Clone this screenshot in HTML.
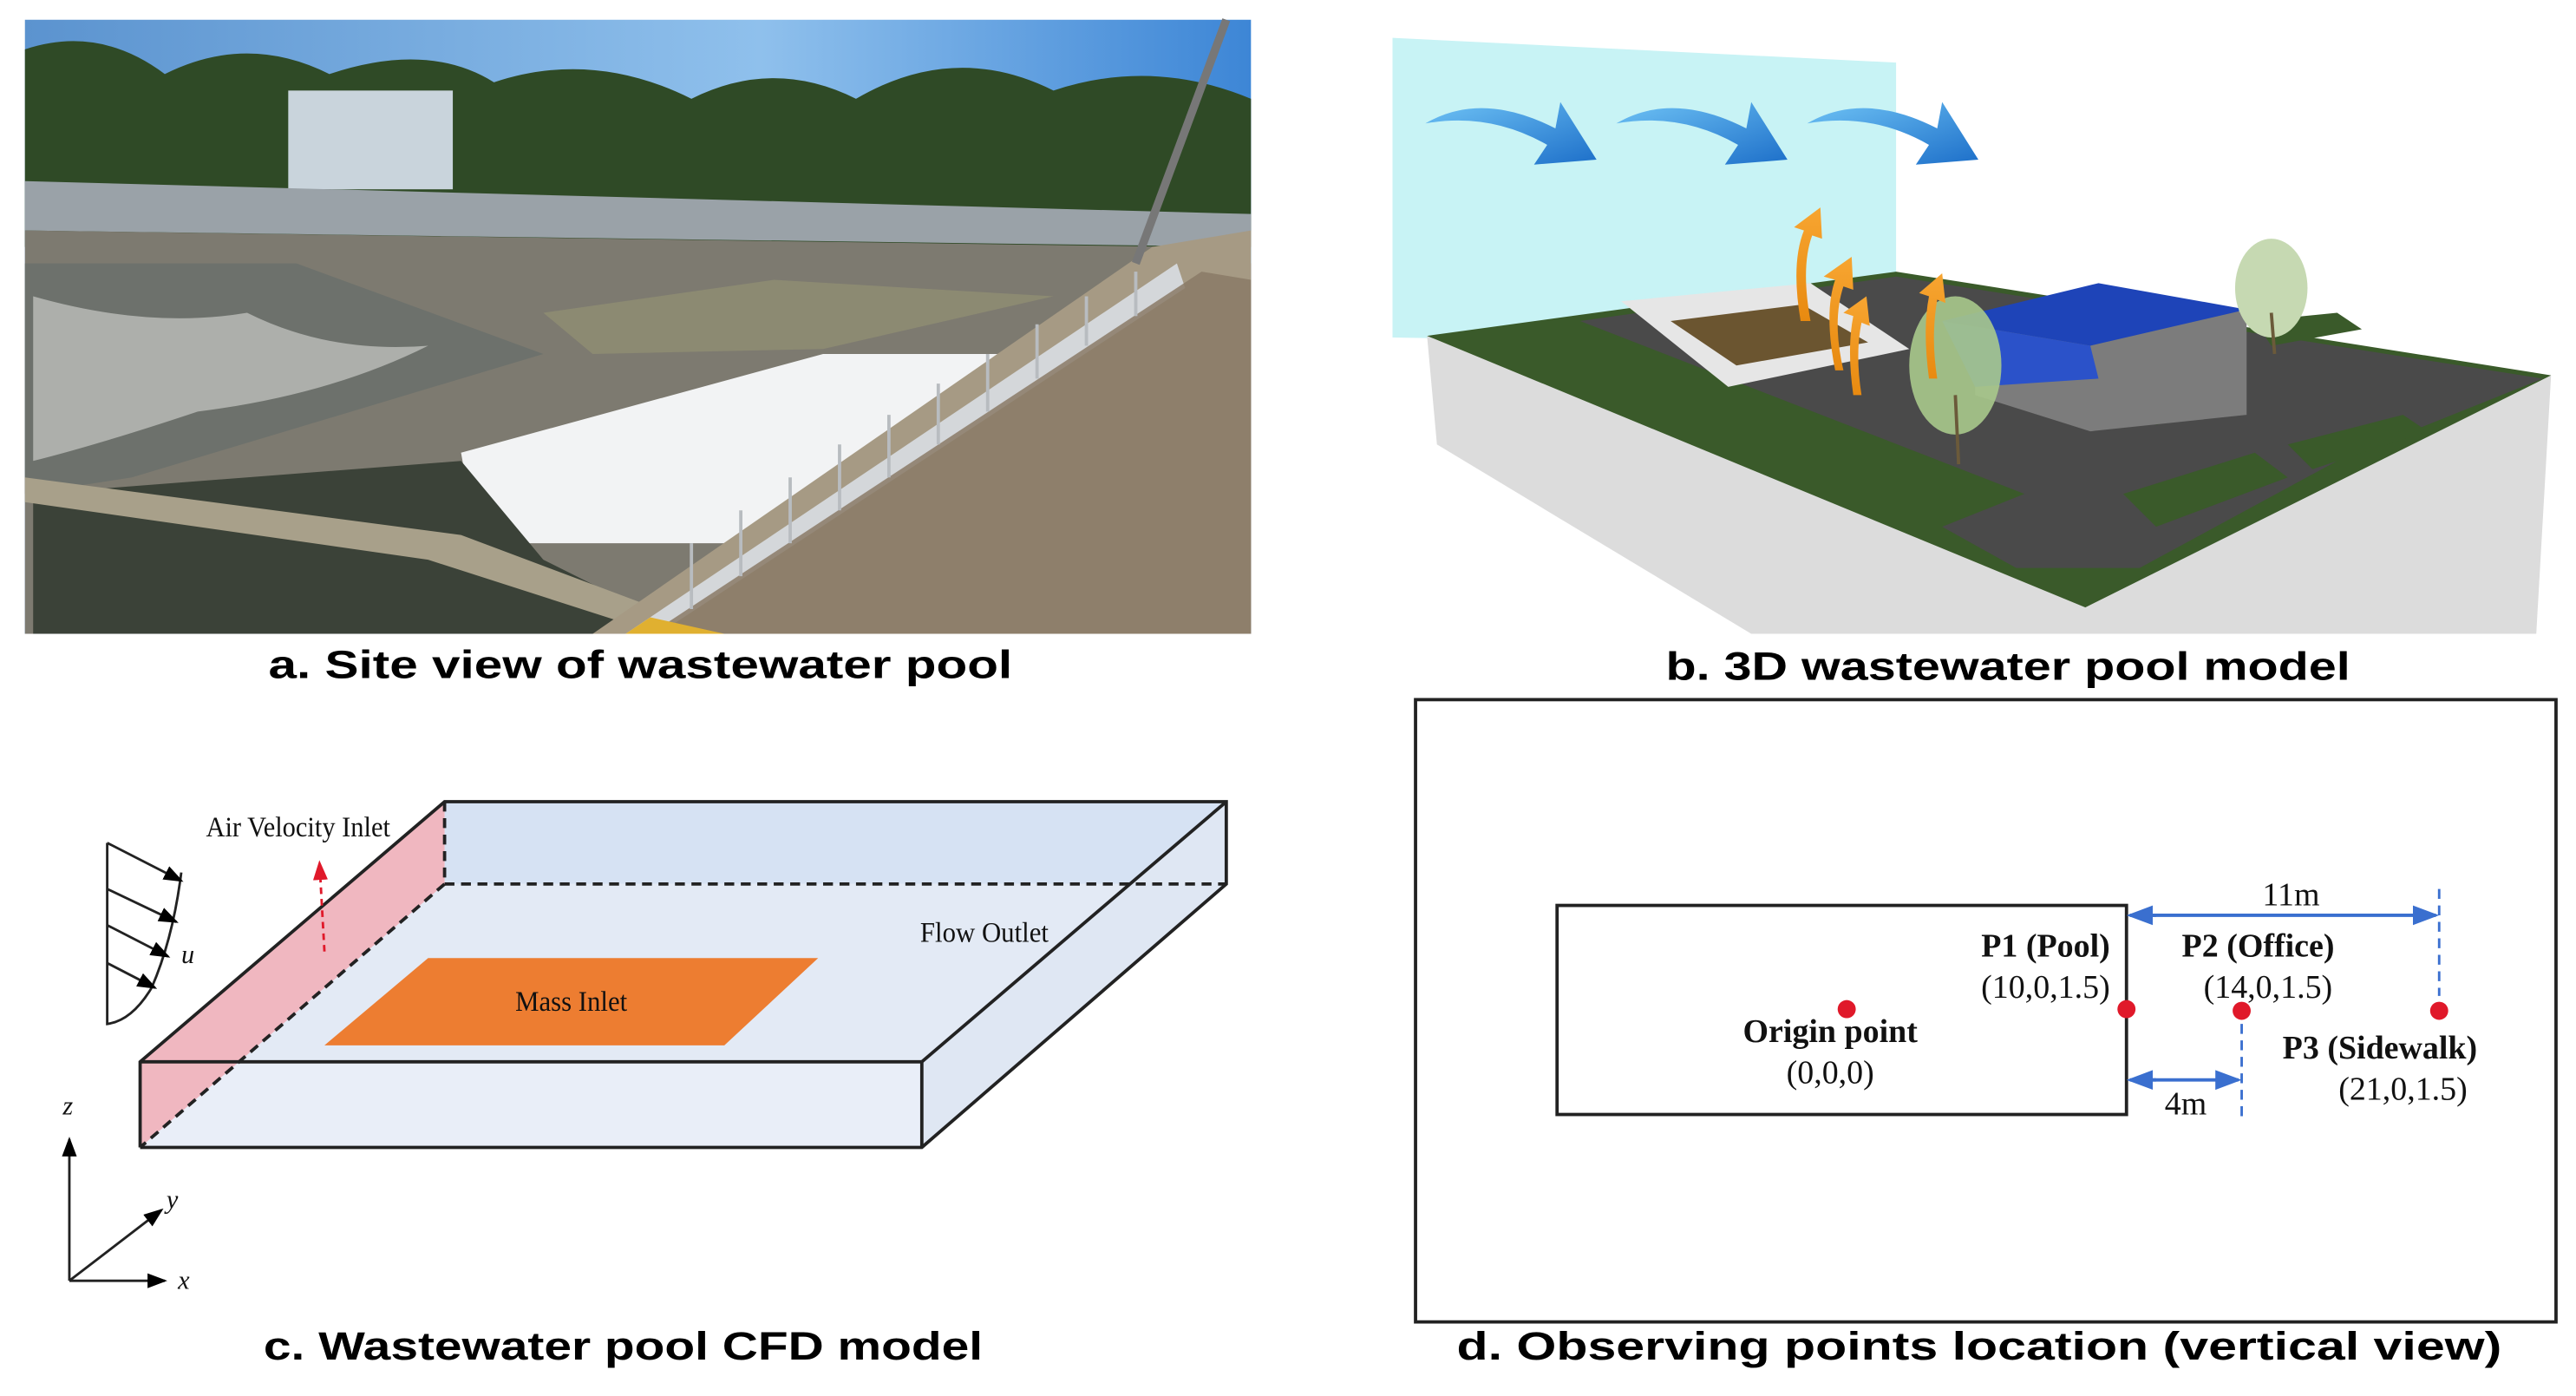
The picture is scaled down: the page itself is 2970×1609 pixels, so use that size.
<!DOCTYPE html>
<html><head><meta charset="utf-8"><style>
html,body{margin:0;padding:0;background:#fff;}
svg{display:block;}
.cap{font-family:"Liberation Sans",sans-serif;font-weight:bold;font-size:24px;fill:#000;}
.ser{font-family:"Liberation Serif",serif;fill:#111;}
</style></head><body>
<svg width="2970" height="1609" viewBox="0 0 1565 848" xmlns="http://www.w3.org/2000/svg">
<defs>
<linearGradient id="sky" x1="0" y1="0" x2="1" y2="0"><stop offset="0" stop-color="#5b93cf"/><stop offset="0.6" stop-color="#8fc0ec"/><stop offset="1" stop-color="#3d86d6"/></linearGradient>
<linearGradient id="bl" x1="0" y1="0" x2="1" y2="1"><stop offset="0" stop-color="#6fc3f5"/><stop offset="1" stop-color="#1d6fc9"/></linearGradient>
<linearGradient id="or" x1="0" y1="1" x2="0" y2="0"><stop offset="0" stop-color="#e88a10"/><stop offset="1" stop-color="#f7a531"/></linearGradient>
<marker id="ab" markerWidth="8" markerHeight="8" refX="7" refY="4" orient="auto"><path d="M0,1 L8,4 L0,7z" fill="#3a6fcf"/></marker>
<marker id="ak" markerWidth="8" markerHeight="8" refX="7" refY="4" orient="auto"><path d="M0,1 L8,4 L0,7z" fill="#000"/></marker>
<marker id="ar" markerWidth="8" markerHeight="8" refX="7" refY="4" orient="auto"><path d="M0,1 L8,4 L0,7z" fill="#e0192a"/></marker>
</defs>

<!-- ===== Panel a: photo ===== -->
<g>
<rect x="15" y="12" width="745" height="373" fill="url(#sky)"/>
<path d="M15,30 Q60,15 100,45 Q150,20 200,45 Q260,25 300,50 Q360,30 420,60 Q470,35 520,60 Q580,25 640,55 Q700,35 760,60 L760,150 L15,150z" fill="#2f4a26"/>
<rect x="175" y="55" width="100" height="60" fill="#c9d4dc"/>
<path d="M15,110 L760,130 L760,150 L15,140z" fill="#9aa2a8"/>
<path d="M15,140 L720,150 L760,160 L760,385 L15,385z" fill="#7d7a70"/>
<path d="M15,160 L180,160 L330,215 L80,290 L15,300z" fill="#6d716c"/>
<path d="M20,180 Q90,200 150,190 Q200,215 260,210 Q200,240 120,250 Q60,270 20,280z" fill="#c9cbc6" opacity="0.7"/>
<path d="M280,275 L500,215 L640,215 L520,330 L290,330z" fill="#f2f3f4"/>
<path d="M330,190 L470,170 L640,180 L500,212 L360,215z" fill="#8c8a72"/>
<path d="M20,300 L280,280 L330,340 L420,385 L20,385z" fill="#3b4238"/>
<path d="M15,290 L280,325 L440,385 L400,385 L260,340 L15,305z" fill="#a8a08a"/>
<path d="M360,385 L700,150 L760,140 L760,385z" fill="#a69a84"/>
<path d="M380,385 L715,160 L720,175 L400,385z" fill="#d4d7da"/>
<path d="M395,385 L730,165 L760,170 L760,385z" fill="#8a7a66" opacity="0.85"/>
<g stroke="#b8bcc0" stroke-width="2">
<line x1="420" y1="370" x2="420" y2="330"/><line x1="450" y1="350" x2="450" y2="310"/><line x1="480" y1="330" x2="480" y2="290"/><line x1="510" y1="310" x2="510" y2="270"/><line x1="540" y1="290" x2="540" y2="252"/><line x1="570" y1="270" x2="570" y2="233"/><line x1="600" y1="250" x2="600" y2="215"/><line x1="630" y1="230" x2="630" y2="197"/><line x1="660" y1="210" x2="660" y2="180"/><line x1="690" y1="192" x2="690" y2="165"/>
</g>
<line x1="690" y1="160" x2="745" y2="12" stroke="#777" stroke-width="5"/>
<path d="M380,385 L395,375 L440,385z" fill="#e0b030"/>
</g>
<text class="cap" x="163" y="412" textLength="452" lengthAdjust="spacingAndGlyphs">a. Site view of wastewater pool</text>

<!-- ===== Panel b: 3D model ===== -->
<g>
<polygon points="846,23 1152,38 1152,210 846,205" fill="#c8f3f5"/>
<polygon points="867,204 873,270 1064,385 1541,385 1550,228 1267,369" fill="#dcdcdc"/>
<polygon points="867,204 1152,165 1550,228 1267,369" fill="#3a5a2a"/>
<polygon points="960,195 1152,168 1545,230 1420,280 1300,345 1225,345 1180,320 1230,300" fill="#4a4a4a"/>
<polygon points="1290,300 1370,275 1390,290 1310,320" fill="#3a5a2a"/>
<polygon points="1390,270 1460,252 1475,262 1405,285" fill="#3a5a2a"/>
<polygon points="1300,250 1350,240 1360,248 1310,258" fill="#3a5a2a"/>
<polygon points="1370,195 1420,190 1435,200 1380,210" fill="#3a5a2a"/>
<polygon points="985,183 1100,172 1160,212 1050,235" fill="#e6e6e6"/>
<polygon points="1015,195 1095,185 1135,208 1055,222" fill="#6b5530"/>
<polygon points="1200,195 1290,178 1365,190 1365,252 1270,262 1200,240" fill="#7c7c7c"/>
<polygon points="1180,195 1275,172 1365,188 1270,210" fill="#1e44b8"/>
<polygon points="1180,195 1270,210 1275,230 1200,235" fill="#2b52c9"/>
<ellipse cx="1188" cy="222" rx="28" ry="42" fill="#a8c98c" opacity="0.9"/>
<line x1="1188" y1="240" x2="1190" y2="282" stroke="#6b5a3a" stroke-width="2"/>
<ellipse cx="1380" cy="175" rx="22" ry="30" fill="#c6d9b2"/>
<line x1="1380" y1="190" x2="1382" y2="215" stroke="#6b5a3a" stroke-width="2"/>
<g fill="url(#bl)">
<path d="M866,75 Q900,55 945,78 L948,62 L970,97 L932,100 L940,88 Q905,68 866,75z"/>
<path d="M982,75 Q1016,55 1061,78 L1064,62 L1086,97 L1048,100 L1056,88 Q1021,68 982,75z"/>
<path d="M1098,75 Q1132,55 1177,78 L1180,62 L1202,97 L1164,100 L1172,88 Q1137,68 1098,75z"/>
</g>
<g fill="url(#or)">
<path d="M1094,195 Q1088,160 1096,140 L1090,138 L1106,126 L1107,145 L1101,143 Q1094,162 1100,195z"/>
<path d="M1115,225 Q1108,190 1115,170 L1108,168 L1125,156 L1126,176 L1120,174 Q1113,195 1120,225z"/>
<path d="M1126,240 Q1122,212 1126,192 L1120,190 L1134,180 L1136,198 L1131,196 Q1127,215 1131,240z"/>
<path d="M1172,230 Q1168,200 1172,180 L1166,178 L1180,166 L1182,184 L1177,182 Q1173,205 1177,230z"/>
</g>
</g>
<text class="cap" x="1012" y="413" textLength="416" lengthAdjust="spacingAndGlyphs">b. 3D wastewater pool model</text>

<!-- ===== Panel c: CFD model ===== -->
<g>
<polygon points="270,487 745,487 745,537 270,537" fill="#d6e2f3"/>
<polygon points="270,537 745,537 560,645 85,645" fill="#e3eaf5"/>
<polygon points="745,487 745,537 560,697 560,645" fill="#dfe7f3"/>
<polygon points="85,645 560,645 560,697 85,697" fill="#e9eef8"/>
<polygon points="85,645 270,487 270,537 85,697" fill="#f0b7c0"/>
<polygon points="260,582 497,582 440,635 197,635" fill="#ed7d31"/>
<g stroke="#222" stroke-width="2" fill="none">
<polyline points="85,697 560,697 745,537 745,487 270,487 85,645 85,697"/>
<line x1="85" y1="645" x2="560" y2="645"/><line x1="560" y1="645" x2="560" y2="697"/><line x1="560" y1="645" x2="745" y2="487"/>
</g>
<g stroke="#222" stroke-width="2" stroke-dasharray="6,4" fill="none">
<line x1="270" y1="537" x2="745" y2="537"/><line x1="270" y1="537" x2="85" y2="697"/><line x1="270" y1="487" x2="270" y2="537"/>
</g>
<line x1="197" y1="578" x2="194" y2="524" stroke="#e0192a" stroke-width="1.5" stroke-dasharray="4,3" marker-end="url(#ar)"/>
<g stroke="#222" stroke-width="1.5" fill="none">
<path d="M65,512 L65,622 Q80,620 92,600 Q105,570 110,530"/>
<line x1="65" y1="512" x2="110" y2="535" marker-end="url(#ak)"/>
<line x1="65" y1="540" x2="107" y2="560" marker-end="url(#ak)"/>
<line x1="65" y1="562" x2="102" y2="581" marker-end="url(#ak)"/>
<line x1="65" y1="585" x2="94" y2="600" marker-end="url(#ak)"/>
<line x1="42" y1="778" x2="42" y2="692" marker-end="url(#ak)"/>
<line x1="42" y1="778" x2="100" y2="778" marker-end="url(#ak)"/>
<line x1="42" y1="778" x2="98" y2="735" marker-end="url(#ak)"/>
</g>
<text class="ser" x="110" y="585" font-size="16" font-style="italic">u</text>
<text class="ser" x="38" y="677" font-size="16" font-style="italic">z</text>
<text class="ser" x="101" y="734" font-size="16" font-style="italic">y</text>
<text class="ser" x="108" y="783" font-size="16" font-style="italic">x</text>
<text class="ser" x="125" y="508" font-size="17" textLength="112" lengthAdjust="spacingAndGlyphs">Air Velocity Inlet</text>
<text class="ser" x="559" y="572" font-size="17" textLength="78" lengthAdjust="spacingAndGlyphs">Flow Outlet</text>
<text class="ser" x="313" y="614" font-size="17" textLength="68" lengthAdjust="spacingAndGlyphs">Mass Inlet</text>
</g>
<text class="cap" x="160" y="826" textLength="437" lengthAdjust="spacingAndGlyphs">c. Wastewater pool CFD model</text>

<!-- ===== Panel d ===== -->
<g>
<rect x="860" y="425" width="693" height="378" fill="none" stroke="#222" stroke-width="2"/>
<rect x="946" y="550" width="346" height="127" fill="none" stroke="#222" stroke-width="2"/>
<g stroke="#3a6fcf" stroke-width="1.5" stroke-dasharray="6,4">
<line x1="1482" y1="540" x2="1482" y2="605"/><line x1="1362" y1="622" x2="1362" y2="680"/>
</g>
<g stroke="#3a6fcf" stroke-width="2">
<line x1="1300" y1="556" x2="1480" y2="556" marker-end="url(#ab)"/>
<line x1="1310" y1="556" x2="1294" y2="556" marker-end="url(#ab)"/>
<line x1="1300" y1="656" x2="1360" y2="656" marker-end="url(#ab)"/>
<line x1="1310" y1="656" x2="1294" y2="656" marker-end="url(#ab)"/>
</g>
<g fill="#e0192a">
<circle cx="1122" cy="613" r="5.5"/><circle cx="1292" cy="613" r="5.5"/><circle cx="1362" cy="614" r="5.5"/><circle cx="1482" cy="614" r="5.5"/>
</g>
<text class="ser" x="1392" y="550" font-size="20" text-anchor="middle">11m</text>
<text class="ser" x="1328" y="677" font-size="20" text-anchor="middle">4m</text>
<text class="ser" x="1282" y="581" font-size="20" font-weight="bold" text-anchor="end">P1 (Pool)</text>
<text class="ser" x="1282" y="606" font-size="20" text-anchor="end">(10,0,1.5)</text>
<text class="ser" x="1372" y="581" font-size="20" font-weight="bold" text-anchor="middle">P2 (Office)</text>
<text class="ser" x="1378" y="606" font-size="20" text-anchor="middle">(14,0,1.5)</text>
<text class="ser" x="1112" y="633" font-size="20" font-weight="bold" text-anchor="middle">Origin point</text>
<text class="ser" x="1112" y="658" font-size="20" text-anchor="middle">(0,0,0)</text>
<text class="ser" x="1446" y="643" font-size="20" font-weight="bold" text-anchor="middle">P3 (Sidewalk)</text>
<text class="ser" x="1460" y="668" font-size="20" text-anchor="middle">(21,0,1.5)</text>
</g>
<text class="cap" x="885" y="826" textLength="635" lengthAdjust="spacingAndGlyphs">d. Observing points location (vertical view)</text>
</svg>
</body></html>
